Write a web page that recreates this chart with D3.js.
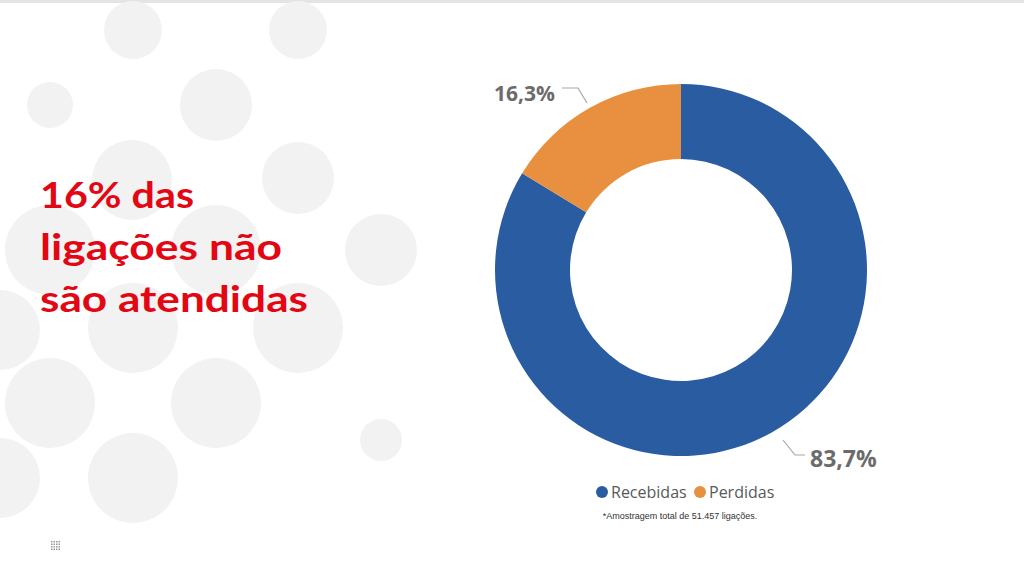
<!DOCTYPE html><html><head><meta charset="utf-8"><script src="https://cdn.jsdelivr.net/npm/d3@7"></script>
<style>body{margin:0;background:#fff}svg{display:block}</style></head><body><svg width="1024" height="578"></svg>
<script>
const categories=["Recebidas","Perdidas"];
const values=[83.7,16.3];
const labels=["83,7%","16,3%"];
const colors=["#2a5ca2","#e8903f"];
const titleLines=["16% das","ligações não","são atendidas"];
const titleWidths=[154,242,268];
const footnote="*Amostragem total de 51.457 ligações.";
const bubbles=[[133,30,29],[298,30,29],[50,105,23],[216,105,36],[132,180,40],[298,178,36],[50,250,45],[216,250,45],[381,250,36],[0,330,40],[133,328,45],[298,328,45],[50,403,45],[216,403,45],[381,440,21],[133,478,45],[0,478,40]];
const svg=d3.select("svg");
svg.append("rect").attr("width",1024).attr("height",3).attr("fill","#e4e4e4");
svg.selectAll("circle.b").data(bubbles).join("circle").attr("cx",d=>d[0]).attr("cy",d=>d[1]).attr("r",d=>d[2]).attr("fill","#f2f2f2");
svg.append("rect").attr("x",435).attr("y",40).attr("width",589).attr("height",490).attr("fill","#fff");
svg.append("g").selectAll("text").data(titleLines).join("text").attr("x",40).attr("y",(d,i)=>208+i*52)
 .attr("fill","#e30613").attr("font-family","Lato, sans-serif").attr("font-weight",700).attr("font-size",36)
 .attr("textLength",(d,i)=>titleWidths[i]).attr("lengthAdjust","spacingAndGlyphs").text(d=>d);
const cx=681,cy=270,R=186,r0=111;
const pie=d3.pie().sort(null).value(d=>d)(values);
const arc=d3.arc().innerRadius(r0).outerRadius(R);
const g=svg.append("g").attr("transform",`translate(${cx},${cy})`);
g.selectAll("path").data(pie).join("path").attr("d",arc).attr("fill",(d,i)=>colors[i]);
const lines=[[[783-cx,440-cy],[795-cx,455-cy],[805-cx,455-cy]],[[587-cx,103-cy],[578-cx,88-cy],[562-cx,88-cy]]];
g.selectAll("path.l").data(lines).join("path").attr("d",d=>d3.line()(d)).attr("fill","none").attr("stroke","#a6a6a6").attr("stroke-width",1.2);
svg.append("text").attr("x",810).attr("y",467).text(labels[0]).attr("font-family","Open Sans, sans-serif").attr("font-weight",700).attr("font-size",23).attr("fill","#6b6b6b");
svg.append("text").attr("x",555).attr("y",101).attr("text-anchor","end").text(labels[1]).attr("font-family","Open Sans, sans-serif").attr("font-weight",700).attr("font-size",21).attr("fill","#6b6b6b");
const lx=[602,700];
categories.forEach((c,i)=>{svg.append("circle").attr("cx",lx[i]).attr("cy",492).attr("r",6).attr("fill",colors[i]);
 svg.append("text").attr("x",lx[i]+9).attr("y",498).text(c).attr("font-family","Open Sans, sans-serif").attr("font-size",16).attr("fill","#595959");});
svg.append("text").attr("x",680).attr("y",519).attr("text-anchor","middle").text(footnote).attr("font-family","Arial, Liberation Sans, sans-serif").attr("font-size",9).attr("fill","#333");
const ic=svg.append("g").attr("fill","#999");
for(let i=0;i<4;i++)for(let j=0;j<4;j++)ic.append("rect").attr("x",51+i*2.5).attr("y",541+j*2.5).attr("width",1.5).attr("height",1.5);
</script></body></html>
